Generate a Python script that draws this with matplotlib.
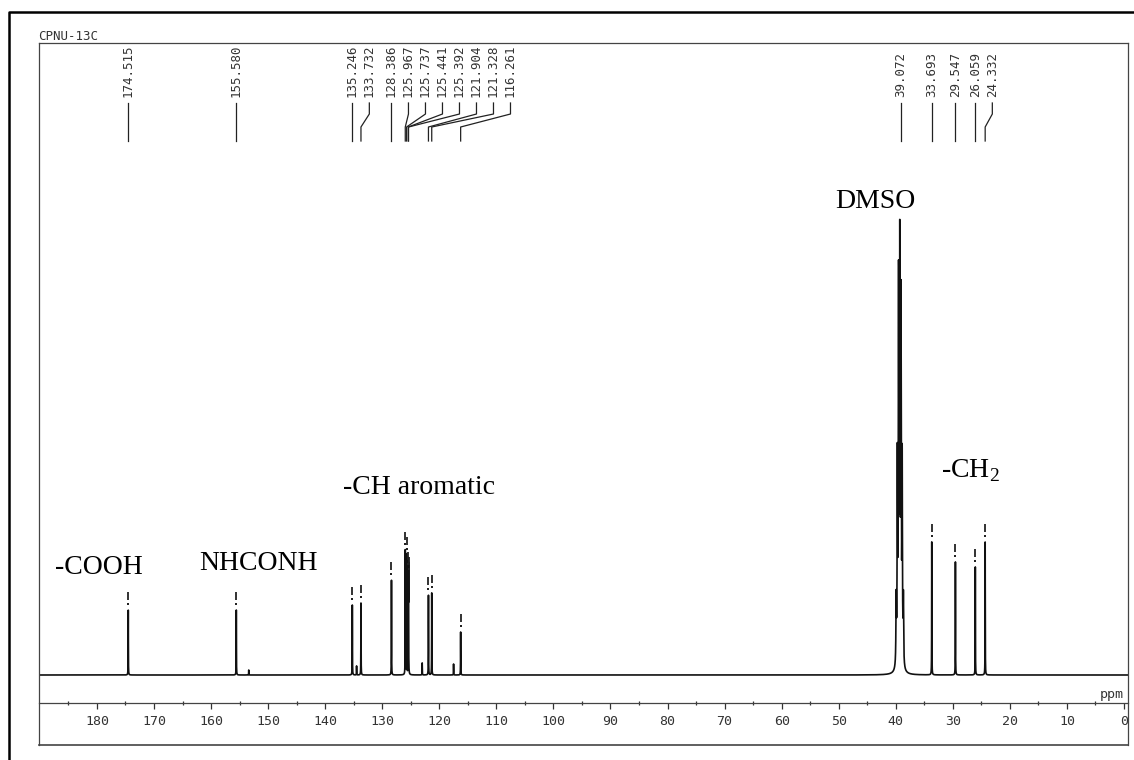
import numpy as np
import matplotlib
matplotlib.use("Agg")
import matplotlib.pyplot as plt
from matplotlib.lines import Line2D

# ppm values printed above the spectrum
label_ppm = [174.515, 155.580, 135.246, 133.732, 128.386, 125.967, 125.737,
             125.441, 125.392, 121.904, 121.328, 116.261,
             39.072, 33.693, 29.547, 26.059, 24.332]

# sample peaks (ppm, height above baseline)
peak_ppm = [174.515, 155.580, 135.246, 133.732, 128.386, 125.967, 125.737,
            125.441, 125.392, 121.904, 121.328, 116.261,
            33.693, 29.547, 26.059, 24.332]
peak_height = [65, 65, 70, 72, 95, 125, 120, 105, 100, 80, 82, 43,
               133, 113, 108, 133]

# small unpicked peaks
small_ppm = [153.4, 134.5, 123.0, 117.5]
small_height = [5, 9, 12, 11]

# DMSO-d6 septet
dmso_ppm = [39.93, 39.72, 39.51, 39.30, 39.09, 38.88, 38.67]
dmso_height = [65, 200, 375, 410, 355, 200, 65]

major_ticks = np.arange(0, 181, 10)
minor_ticks = np.arange(5, 190, 10)

plt.rcParams['font.family'] = ['DejaVu Sans Mono', 'DejaVu Sans']
plt.rcParams['mathtext.fontset'] = 'custom'
plt.rcParams['mathtext.rm'] = 'Liberation Serif'

W, H = 1134, 760
fig = plt.figure(figsize=(W / 100, H / 100), dpi=100)
ax = fig.add_axes([39 / W, 15 / H, 1089 / W, 702 / H])

x_left, x_right = 190.16, -0.70
ax.set_xlim(x_left, x_right)
ax.set_ylim(-70, 632)


def lorentz(x, p, h, w):
    return h / (1 + ((x - p) / w) ** 2)


# spectrum = sum of lorentzians (solvent lines a bit broader)
x = np.linspace(x_left, x_right, 80000)
y = np.zeros_like(x)
for p, h in zip(peak_ppm + small_ppm, peak_height + small_height):
    y += lorentz(x, p, h, 0.018)
for p, h in zip(dmso_ppm, dmso_height):
    y += lorentz(x, p, h, 0.05)
ax.plot(x, y, color='#111111', lw=1.2)

# "!" marks above picked peaks (y units are pixels above the baseline)
for p, h in zip(peak_ppm, peak_height):
    ax.plot([p, p], [h + 10, h + 18], color='#222222', lw=1.3,
            solid_capstyle='butt')
    ax.plot([p], [h + 6.5], marker='s', ms=1.6, color='#222222', mew=0)


# peak labels at the top, spread apart where crowded
def spread(vals, gap):
    pos = []
    for v in vals:
        if pos and pos[-1] - v < gap:
            pos.append(pos[-1] - gap)
        else:
            pos.append(v)
    return pos


label_pos = spread(label_ppm, 2.98)
for p, q in zip(label_ppm, label_pos):
    if abs(p - q) < 0.3:
        ax.plot([q, q], [572, 534], color='#222222', lw=0.9)
    else:
        ax.plot([q, q, p, p], [572, 561, 548, 534], color='#222222', lw=0.9)
    ax.text(q, 578, f"{p:.3f}", rotation=90, ha='center', va='bottom',
            fontsize=9, color='#333333')

# group assignments
serif = dict(fontfamily='Liberation Serif', fontsize=20, color='black', va='center')
ax.text(187.4, 108, '-COOH', ha='left', **serif)
ax.text(162.1, 112, 'NHCONH', ha='left', **serif)
ax.text(136.9, 188, '-CH aromatic', ha='left', **serif)
ax.text(36.6, 474, 'DMSO', ha='right', **serif)
ax.text(32.1, 204, r'-CH$_\mathregular{2}$', ha='left', **serif)

# ppm scale drawn inside the frame
ax.spines['bottom'].set_position(('data', -28))
for s in ['bottom', 'top', 'left', 'right']:
    ax.spines[s].set_color('#444444')
    ax.spines[s].set_linewidth(0.9)
ax.plot([0, 1], [0, 0], transform=ax.transAxes, color='#444444', lw=1.2,
        clip_on=False)
ax.set_xticks(major_ticks)
ax.set_xticks(minor_ticks, minor=True)
ax.set_xticklabels([str(t) for t in major_ticks])
ax.tick_params(axis='x', which='major', direction='out', length=4.5, width=0.9,
               pad=4, labelsize=9.5, colors='#333333')
ax.tick_params(axis='x', which='minor', direction='inout', length=3, width=0.9,
               colors='#333333')
ax.set_yticks([])
ax.text(0, -26, 'ppm', ha='right', va='bottom', fontsize=9.5, color='#333333')

fig.text(38 / W, 1 - 36 / H, 'CPNU-13C', ha='left', va='center',
         fontsize=9, color='#333333')

# outer frame of the scanned page
fig.add_artist(Line2D([9 / W, 9 / W, 1], [0, 1 - 12 / H, 1 - 12 / H],
                      transform=fig.transFigure, color='black', lw=1.8))

fig.savefig('out.png', dpi=100)
